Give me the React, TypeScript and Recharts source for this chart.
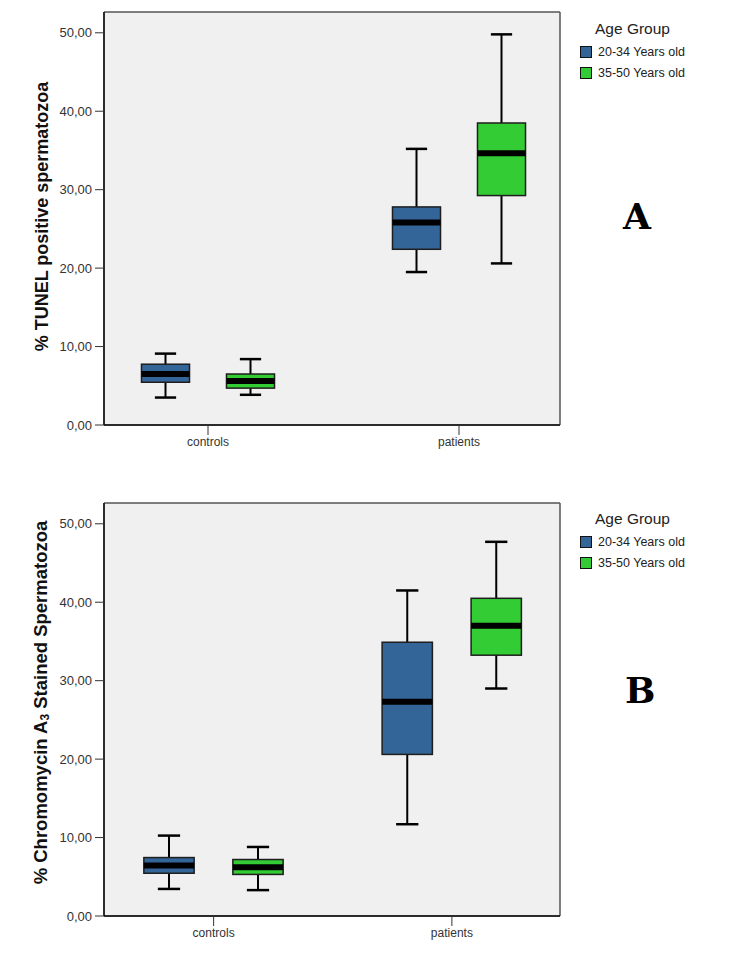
import { ComposedChart, Bar, XAxis, YAxis, CartesianGrid, Legend } from 'recharts';

const groups = ['controls', 'patients'];
const seriesNames = ['20-34 Years old', '35-50 Years old'];
const seriesColors = ['#346598', '#34cc34'];
const yTicks = [0, 10, 20, 30, 40, 50];

// [min, q1, median, q3, max] per group
const tunelYoung = [
  [3.5, 5.45, 6.5, 7.75, 9.1],
  [19.5, 22.4, 25.8, 27.8, 35.2],
];
const tunelOld = [
  [3.85, 4.7, 5.6, 6.5, 8.4],
  [20.6, 29.25, 34.65, 38.5, 49.8],
];
const cmaYoung = [
  [3.45, 5.45, 6.45, 7.45, 10.25],
  [11.7, 20.6, 27.3, 34.9, 41.5],
];
const cmaOld = [
  [3.3, 5.3, 6.2, 7.2, 8.8],
  [29.0, 33.25, 37.0, 40.5, 47.7],
];

const FONT = '"Liberation Sans", Arial, sans-serif';

const fmt = (v: number) => v.toFixed(2).replace('.', ',');

function boxShape(key: 'young' | 'old', color: string) {
  return (props: any) => {
    const { x, y, width, height, payload } = props;
    const s: number[] = payload[key];
    const top = Math.min(y, y + height);
    const bot = Math.max(y, y + height);
    const py = (v: number) => bot - ((v - s[0]) / (s[4] - s[0])) * (bot - top);
    const cx = x + width / 2;
    const bw = width * 0.565;
    const cw = width * 0.25;
    return (
      <g>
        <line x1={cx} x2={cx} y1={py(s[4])} y2={py(s[0])} stroke="#000" strokeWidth={2} />
        <line x1={cx - cw / 2} x2={cx + cw / 2} y1={py(s[4])} y2={py(s[4])} stroke="#000" strokeWidth={2.5} />
        <line x1={cx - cw / 2} x2={cx + cw / 2} y1={py(s[0])} y2={py(s[0])} stroke="#000" strokeWidth={2.5} />
        <rect
          x={cx - bw / 2}
          y={py(s[3])}
          width={bw}
          height={py(s[1]) - py(s[3])}
          fill={color}
          stroke="#1e1e1e"
          strokeWidth={1.5}
        />
        <line x1={cx - bw / 2} x2={cx + bw / 2} y1={py(s[2])} y2={py(s[2])} stroke="#000" strokeWidth={6} />
      </g>
    );
  };
}

const renderLegend = (props: any) => {
  const items = props.payload || [];
  return (
    <div style={{ fontFamily: FONT, color: '#222' }}>
      <div style={{ fontSize: 15.5, marginLeft: 15, lineHeight: '18px', marginBottom: 3 }}>Age Group</div>
      {items.map((it: any) => (
        <div key={it.value} style={{ display: 'flex', alignItems: 'center', height: 21, fontSize: 12.5 }}>
          <span
            style={{
              display: 'inline-block',
              width: 10,
              height: 10,
              background: it.color,
              border: '1px solid #111',
              marginRight: 6,
            }}
          />
          {it.value}
        </div>
      ))}
    </div>
  );
};

interface PanelProps {
  young: number[][];
  old: number[][];
  label: (vb: any) => any;
  height: number;
  marginTop: number;
  marginBottom: number;
  padLeft: number;
  padRight: number;
  catGap: number;
  legendTop: number;
}

function Panel({ young, old, label, height, marginTop, marginBottom, padLeft, padRight, catGap, legendTop }: PanelProps) {
  const data = groups.map((g, i) => ({ group: g, young: young[i], old: old[i] }));
  return (
    <ComposedChart
      width={734}
      height={height}
      data={data}
      margin={{ top: marginTop, right: 174, bottom: marginBottom, left: 0 }}
      barCategoryGap={catGap}
      barGap={0}
      style={{ fontFamily: FONT }}
    >
      <CartesianGrid
        fill="#f0f0f0"
        stroke="#555"
        strokeWidth={1.5}
        horizontalCoordinatesGenerator={({ offset }: any) => [offset.top, offset.top + offset.height]}
        verticalCoordinatesGenerator={({ offset }: any) => [offset.left, offset.left + offset.width]}
      />
      <XAxis
        dataKey="group"
        height={30}
        padding={{ left: padLeft, right: padRight }}
        tick={{ fill: '#333', fontSize: 12 }}
        tickLine={{ stroke: '#333' }}
        tickSize={10}
        axisLine={{ stroke: '#111', strokeWidth: 1.5 }}
      />
      <YAxis
        width={104}
        domain={[0, 52.65]}
        ticks={yTicks}
        tickFormatter={fmt}
        tick={{ fill: '#333', fontSize: 13 }}
        tickSize={9}
        tickMargin={3}
        tickLine={{ stroke: '#333' }}
        axisLine={{ stroke: '#111', strokeWidth: 1.5 }}
        label={{ content: (p: any) => label(p.viewBox) }}
      />
      <Legend
        layout="vertical"
        align="center"
        verticalAlign="middle"
        content={renderLegend}
        wrapperStyle={{ left: 580, top: legendTop, width: 150 }}
      />
      <Bar
        name={seriesNames[0]}
        dataKey={(d: any) => [d.young[0], d.young[4]]}
        fill={seriesColors[0]}
        shape={boxShape('young', seriesColors[0])}
        isAnimationActive={false}
      />
      <Bar
        name={seriesNames[1]}
        dataKey={(d: any) => [d.old[0], d.old[4]]}
        fill={seriesColors[1]}
        shape={boxShape('old', seriesColors[1])}
        isAnimationActive={false}
      />
    </ComposedChart>
  );
}

const tunelLabel = (vb: any) => {
  const cx = vb.x + 42;
  const cy = vb.y + vb.height / 2 - 2;
  return (
    <text
      x={cx}
      y={cy}
      transform={`rotate(-90 ${cx} ${cy})`}
      textAnchor="middle"
      dominantBaseline="central"
      fontSize={18}
      fontWeight="bold"
      fill="#111"
      fontFamily={FONT}
    >
      % TUNEL positive spermatozoa
    </text>
  );
};

const cmaLabel = (vb: any) => {
  const cx = vb.x + 40;
  const cy = vb.y + vb.height / 2 - 7;
  return (
    <text
      x={cx}
      y={cy}
      transform={`rotate(-90 ${cx} ${cy})`}
      textAnchor="middle"
      dominantBaseline="central"
      fontSize={18.5}
      fontWeight="bold"
      fill="#111"
      fontFamily={FONT}
    >
      <tspan>% Chromomycin A</tspan>
      <tspan dy={5} fontSize={12}>3</tspan>
      <tspan dy={-5}> Stained Spermatozoa</tspan>
    </text>
  );
};

const letterStyle: any = {
  position: 'absolute',
  fontFamily: '"DejaVu Serif", "Liberation Serif", serif',
  fontWeight: 'bold',
  fontSize: 36,
  lineHeight: '36px',
  color: '#000',
};

export default function App() {
  return (
    <div style={{ position: 'absolute', left: 0, top: 0, width: 734, height: 960, background: '#fff' }}>
      <div style={{ position: 'absolute', left: 0, top: 0 }}>
        <Panel
          young={tunelYoung}
          old={tunelOld}
          label={tunelLabel}
          height={470}
          marginTop={12}
          marginBottom={15}
          padLeft={-21.5}
          padRight={-24.5}
          catGap={40.5}
          legendTop={20}
        />
      </div>
      <div style={{ position: 'absolute', left: 0, top: 470 }}>
        <Panel
          young={cmaYoung}
          old={cmaOld}
          label={cmaLabel}
          height={490}
          marginTop={33}
          marginBottom={14}
          padLeft={-9.5}
          padRight={-11}
          catGap={30}
          legendTop={40}
        />
      </div>
      <div style={{ ...letterStyle, left: 623, top: 198 }}>A</div>
      <div style={{ ...letterStyle, left: 625, top: 672 }}>B</div>
    </div>
  );
}
